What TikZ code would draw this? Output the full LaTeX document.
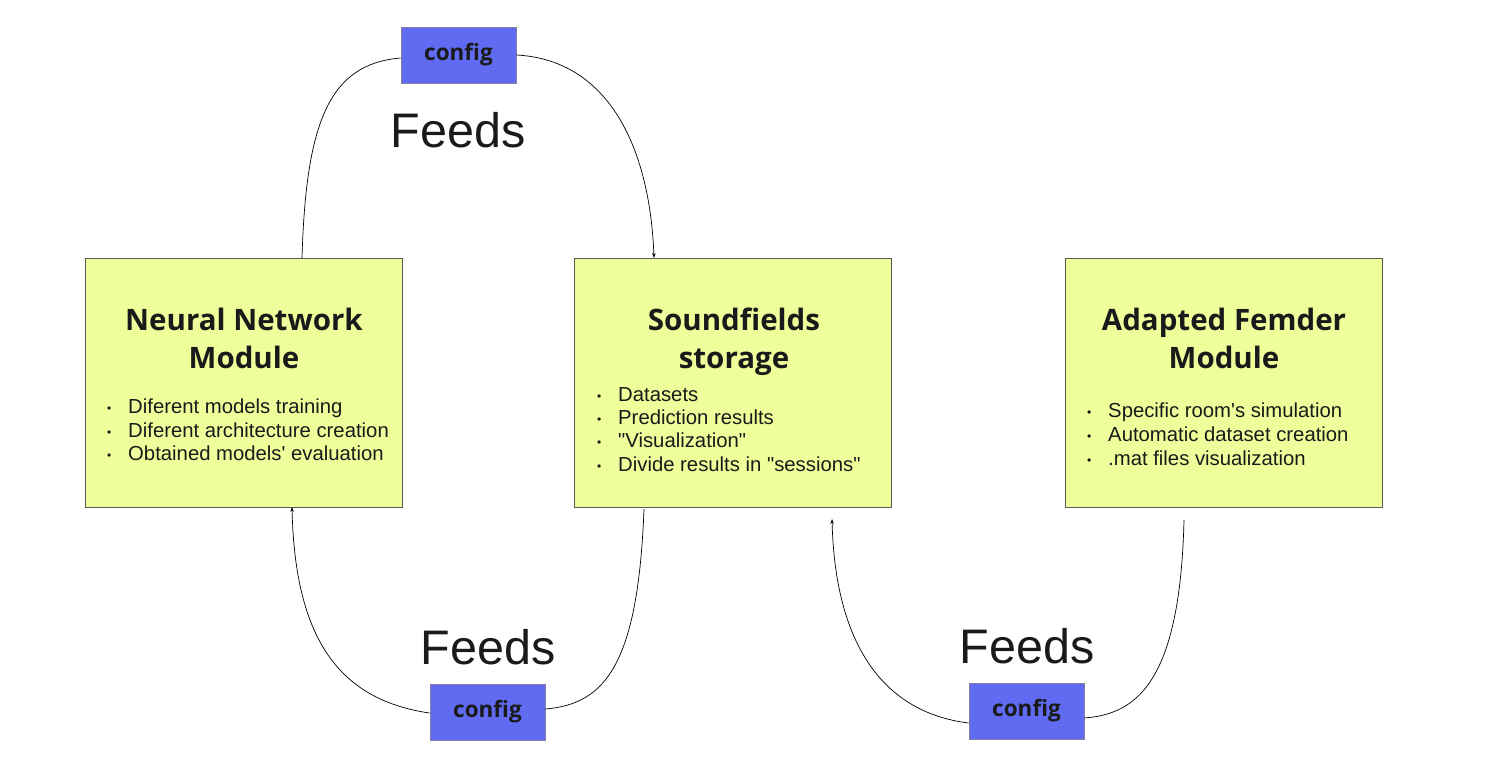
\documentclass[tikz,border=0pt]{standalone}
\usepackage{fontspec}
\setmainfont{Liberation Sans}
\newfontfamily\titlefont{Open Sans}
\usetikzlibrary{arrows.meta}
\definecolor{boxfill}{RGB}{239,254,155}
\definecolor{boxline}{RGB}{90,90,80}
\definecolor{cfgfill}{RGB}{96,107,242}
\definecolor{cfgline}{RGB}{130,130,160}
\definecolor{txt}{RGB}{26,26,26}
\tikzset{
  modbox/.style={draw=boxline, line width=0.9pt, fill=boxfill, minimum width=317pt, minimum height=249pt, inner sep=0pt},
  cfgbox/.style={draw=cfgline, line width=0.9pt, fill=cfgfill, minimum width=115pt, minimum height=56pt, inner sep=0pt, text=txt, font=\titlefont\bfseries\fontsize{22.5}{26}\selectfont},
  title/.style={text=txt, align=center, font=\titlefont\bfseries\fontsize{29.5}{38}\selectfont, inner sep=0pt},
  blist/.style={text=txt, align=left, anchor=north west, inner sep=0pt, font=\fontsize{20.3}{23.3}\selectfont},
  feeds/.style={text=txt, font=\fontsize{48.5}{56}\selectfont, inner sep=0pt},
  conn/.style={draw=black, line width=0.7pt},
  arr/.style={conn, -{Stealth[length=5pt,width=3.5pt]}}
}
\newcommand{\bl}{\makebox[21pt][l]{\raisebox{1pt}{\fontsize{12}{12}\selectfont\textbullet}}}
\newcommand{\dq}{\textquotedbl}
\newcommand{\sq}{\textquotesingle}
\begin{document}
\begin{tikzpicture}[x=1pt,y=-1pt]
\useasboundingbox (0,0) rectangle (1509,776);
% module boxes
\node[modbox] (nn) at (243.5,382.5) {};
\node[modbox] (sf) at (733,382.5) {};
\node[modbox] (af) at (1223.5,382.5) {};
% titles
\node[title] (nnt) at (244,342) {\strut Neural Network\\\strut Module};
\node[title] (sft) at (734,342) {\strut Soundfields\\\strut storage};
\node[title] (aft) at (1224,342) {\strut Adapted Femder\\\strut Module};
% bullet lists
\node[blist] (nnl) at (107,399) {\bl Diferent models training\\\bl Diferent architecture creation\\\bl Obtained models\sq{} evaluation};
\node[blist] (sfl) at (597,387) {\bl Datasets\\\bl Prediction results\\\bl \dq{}Visualization\dq{}\\\bl Divide results in \dq{}sessions\dq{}};
\node[blist] (afl) at (1087,403) {\bl Specific room\sq{}s simulation\\[0.5pt]\bl Automatic dataset creation\\\bl .mat files visualization};
% config boxes
\node[cfgbox] (c1) at (458.5,55) {config};
\node[cfgbox] (c2) at (487.5,712) {config};
\node[cfgbox] (c3) at (1026.5,711) {config};
% feeds labels
\node[feeds] (f1) at (458,130) {Feeds};
\node[feeds] (f2) at (488,647) {Feeds};
\node[feeds] (f3) at (1027,646) {Feeds};
% connector end points
\coordinate (nntop) at (302,258);
\coordinate (sftop) at (654,258);
\coordinate (sfbot) at (644,509);
\coordinate (nnbot) at (292,507);
\coordinate (afbot) at (1184,520);
\coordinate (sfin) at (832,519);
% connectors
\draw[conn] (nntop) .. controls (306,120) and (330,64) .. (c1.west |- 0,58);
\draw[arr] (c1.east |- 0,55) .. controls (610,60) and (650,150) .. (sftop);
\draw[conn] (sfbot) .. controls (638,665) and (605,704) .. (c2.east |- 0,709);
\draw[arr] (c2.west |- 0,713) .. controls (340,700) and (295,640) .. (nnbot);
\draw[conn] (afbot) .. controls (1180,685) and (1135,714) .. (c3.east |- 0,718);
\draw[arr] (c3.west |- 0,723) .. controls (880,712) and (835,640) .. (sfin);
\end{tikzpicture}
\end{document}
